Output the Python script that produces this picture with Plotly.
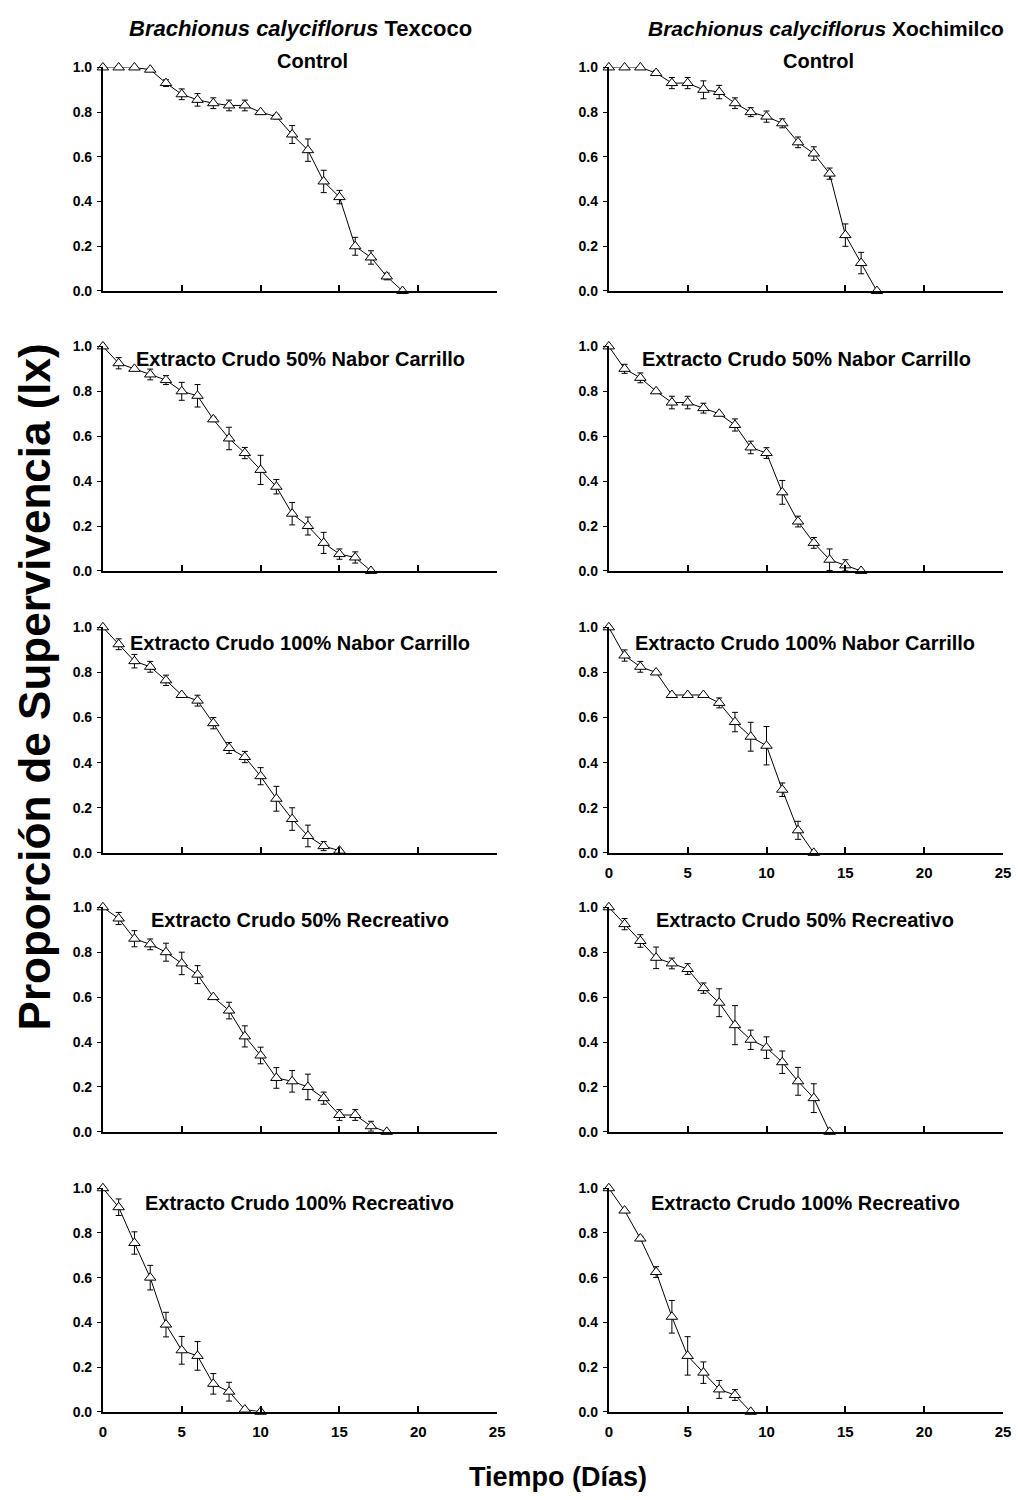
import plotly.graph_objects as go

# ---------------- data ----------------
tex_control_y = [1.0, 1.0, 1.0, 0.99, 0.93, 0.88, 0.855, 0.84, 0.83, 0.83, 0.80, 0.78, 0.70, 0.63, 0.49, 0.42, 0.20, 0.15, 0.065, 0.0]
tex_control_e = [0, 0, 0, 0, 0.015, 0.024, 0.028, 0.024, 0.024, 0.024, 0, 0.01, 0.04, 0.05, 0.05, 0.03, 0.04, 0.03, 0.015, 0]

xoc_control_y = [1.0, 1.0, 1.0, 0.975, 0.93, 0.93, 0.90, 0.89, 0.84, 0.80, 0.78, 0.75, 0.665, 0.615, 0.525, 0.25, 0.125, 0.0]
xoc_control_e = [0, 0, 0, 0.01, 0.025, 0.025, 0.04, 0.03, 0.024, 0.02, 0.025, 0.02, 0.024, 0.03, 0.025, 0.05, 0.048, 0]

tex_nc50_y = [1.0, 0.925, 0.90, 0.875, 0.85, 0.80, 0.78, 0.675, 0.59, 0.525, 0.45, 0.375, 0.255, 0.20, 0.125, 0.075, 0.06, 0.0]
tex_nc50_e = [0, 0.025, 0, 0.024, 0.02, 0.04, 0.05, 0.01, 0.05, 0.025, 0.065, 0.032, 0.05, 0.04, 0.047, 0.023, 0.025, 0]

xoc_nc50_y = [1.0, 0.90, 0.86, 0.80, 0.75, 0.75, 0.725, 0.70, 0.65, 0.55, 0.525, 0.35, 0.22, 0.125, 0.05, 0.025, 0.0]
xoc_nc50_e = [0, 0.02, 0.022, 0, 0.028, 0.028, 0.022, 0, 0.027, 0.028, 0.024, 0.053, 0.024, 0.024, 0.048, 0.025, 0]

tex_nc100_y = [1.0, 0.925, 0.85, 0.825, 0.765, 0.70, 0.675, 0.575, 0.465, 0.425, 0.34, 0.24, 0.15, 0.075, 0.03, 0.01]
tex_nc100_e = [0, 0.024, 0.03, 0.024, 0.023, 0, 0.024, 0.025, 0.024, 0.025, 0.038, 0.055, 0.05, 0.048, 0.02, 0]

xoc_nc100_y = [1.0, 0.875, 0.825, 0.80, 0.70, 0.70, 0.70, 0.665, 0.58, 0.515, 0.475, 0.28, 0.10, 0.0]
xoc_nc100_e = [0, 0.025, 0.024, 0, 0, 0, 0, 0.022, 0.043, 0.064, 0.085, 0.03, 0.04, 0]

tex_rec50_y = [1.0, 0.95, 0.86, 0.835, 0.80, 0.75, 0.70, 0.60, 0.54, 0.425, 0.34, 0.24, 0.225, 0.20, 0.15, 0.075, 0.075, 0.025, 0.0]
tex_rec50_e = [0, 0.027, 0.036, 0.024, 0.04, 0.05, 0.04, 0, 0.037, 0.047, 0.037, 0.046, 0.048, 0.057, 0.027, 0.024, 0.024, 0.022, 0]

xoc_rec50_y = [1.0, 0.925, 0.85, 0.775, 0.75, 0.725, 0.64, 0.575, 0.475, 0.41, 0.375, 0.31, 0.225, 0.15, 0.0]
xoc_rec50_e = [0, 0.025, 0.028, 0.048, 0.024, 0.024, 0.023, 0.062, 0.087, 0.043, 0.048, 0.05, 0.062, 0.064, 0]

tex_rec100_y = [1.0, 0.915, 0.755, 0.60, 0.39, 0.275, 0.25, 0.125, 0.09, 0.01, 0.0]
tex_rec100_e = [0, 0.037, 0.05, 0.055, 0.055, 0.062, 0.064, 0.046, 0.042, 0, 0]

xoc_rec100_y = [1.0, 0.90, 0.775, 0.625, 0.425, 0.25, 0.175, 0.10, 0.075, 0.0]
xoc_rec100_e = [0, 0, 0.01, 0.024, 0.073, 0.086, 0.048, 0.04, 0.024, 0]

panel_titles = ["Control", "Extracto Crudo 50% Nabor Carrillo", "Extracto Crudo 100% Nabor Carrillo",
                "Extracto Crudo 50% Recreativo", "Extracto Crudo 100% Recreativo"]
column_titles = ["<i>Brachionus calyciflorus</i> Texcoco", "<i>Brachionus calyciflorus</i> Xochimilco"]
x_ticks = [0, 5, 10, 15, 20, 25]
y_ticks = [0.0, 0.2, 0.4, 0.6, 0.8, 1.0]

panels = [
    [(tex_control_y, tex_control_e), (xoc_control_y, xoc_control_e)],
    [(tex_nc50_y, tex_nc50_e), (xoc_nc50_y, xoc_nc50_e)],
    [(tex_nc100_y, tex_nc100_e), (xoc_nc100_y, xoc_nc100_e)],
    [(tex_rec50_y, tex_rec50_e), (xoc_rec50_y, xoc_rec50_e)],
    [(tex_rec100_y, tex_rec100_e), (xoc_rec100_y, xoc_rec100_e)],
]

# ---------------- layout geometry (page pixels) ----------------
PAGE_MARGIN = 8            # default body margin of the html page
W, H = 1024 - 2 * PAGE_MARGIN, 1500 - 2 * PAGE_MARGIN


def px(x):
    return (x - PAGE_MARGIN) / W


def py(y):
    return 1 - (y - PAGE_MARGIN) / H


rows_px = [(60, 286), (342, 569), (626, 854), (909, 1136), (1193, 1419)]
cols_px = [(100, 499), (612, 1011)]
show_xlabels = {(2, 1), (4, 0), (4, 1)}

FONT = "Liberation Sans, Arial, sans-serif"
fig = go.Figure()
layout = dict(width=W, height=H, margin=dict(l=0, r=0, t=0, b=0),
              paper_bgcolor="white", plot_bgcolor="white", showlegend=False,
              font=dict(family=FONT, color="black"))
annotations = []

for r in range(5):
    for c in range(2):
        n = r * 2 + c + 1
        ys, es = panels[r][c]
        days = list(range(len(ys)))
        xa = "x" if n == 1 else f"x{n}"
        ya = "y" if n == 1 else f"y{n}"
        fig.add_trace(go.Scatter(
            x=days, y=ys, xaxis=xa, yaxis=ya, mode="lines+markers",
            line=dict(color="black", width=1),
            marker=dict(symbol="triangle-up", size=10, color="white",
                        line=dict(color="black", width=1)),
            error_y=dict(type="data", array=es, visible=True, color="black",
                         thickness=1, width=3),
            cliponaxis=False,
        ))
        x0, x1 = cols_px[c]
        y0, y1 = rows_px[r]
        layout["xaxis" if n == 1 else f"xaxis{n}"] = dict(
            domain=[px(x0), px(x1)], anchor=ya, range=[0, 25],
            tickvals=x_ticks, showticklabels=(r, c) in show_xlabels,
            ticks="inside", ticklen=6, tickwidth=2, tickcolor="black",
            showline=True, linewidth=2, linecolor="black",
            showgrid=False, zeroline=False, ticklabelstandoff=5,
            tickfont=dict(family=FONT, size=15, color="black", weight="bold"),
        )
        layout["yaxis" if n == 1 else f"yaxis{n}"] = dict(
            domain=[py(y1), py(y0)], anchor=xa, range=[0, 1.0],
            tickvals=y_ticks, tickformat=".1f",
            ticks="outside", ticklen=4, tickwidth=1, tickcolor="black",
            showline=True, linewidth=2, linecolor="black",
            showgrid=False, zeroline=False, ticklabelstandoff=2,
            tickfont=dict(family=FONT, size=14, color="black", weight="bold"),
        )

# panel titles
sub_pos = [(312, 53), (300, 355), (299, 642), (299, 922), (299, 1208)]
for r, (cx, cy) in enumerate(sub_pos):
    for c in range(2):
        annotations.append(dict(
            text=f"<b>{panel_titles[r]}</b>", xref="paper", yref="paper",
            x=px(cx + c * 512), y=py(cy), xanchor="center", yanchor="middle",
            showarrow=False, font=dict(family=FONT, size=20, color="black")))

# column titles
annotations.append(dict(text=f"<b>{column_titles[0]}</b>", xref="paper", yref="paper",
                        x=px(300), y=py(21), xanchor="center", yanchor="middle",
                        showarrow=False, font=dict(family=FONT, size=22, color="black")))
annotations.append(dict(text=f"<b>{column_titles[1]}</b>", xref="paper", yref="paper",
                        x=px(650), y=py(21), xanchor="left", yanchor="middle",
                        showarrow=False, font=dict(family=FONT, size=21, color="black")))

# axis titles
annotations.append(dict(text="<b>Tiempo (Días)</b>", xref="paper", yref="paper",
                        x=px(561), y=py(1485), xanchor="center", yanchor="middle",
                        showarrow=False, font=dict(family=FONT, size=27, color="black")))
annotations.append(dict(text="<b>Proporción de Supervivencia (lx)</b>", xref="paper", yref="paper",
                        x=px(31), y=py(686), xanchor="center", yanchor="middle",
                        textangle=-90, showarrow=False, borderpad=0,
                        font=dict(family=FONT, size=44, color="black")))

layout["annotations"] = annotations
fig.update_layout(**layout)
fig.write_html("out.html")
